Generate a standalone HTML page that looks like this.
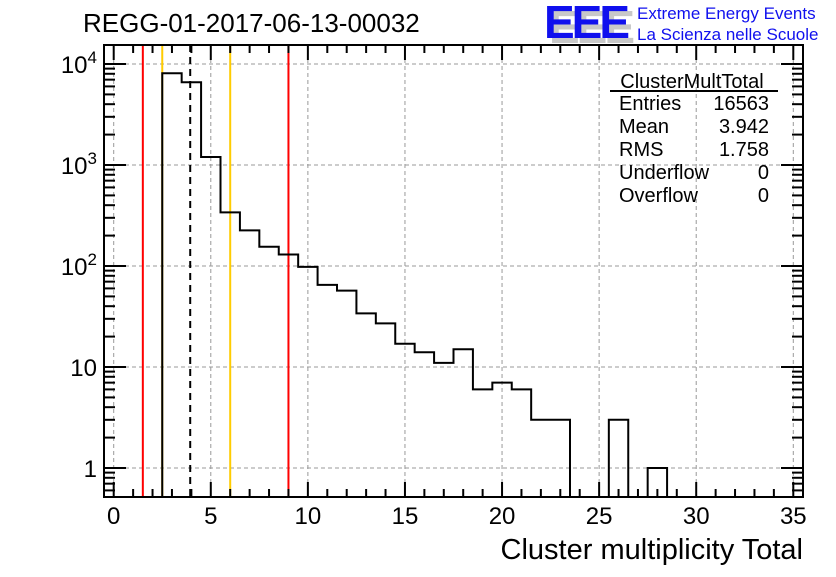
<!DOCTYPE html>
<html><head><meta charset="utf-8"><style>
html,body{margin:0;padding:0;background:#fff;}
svg text{font-family:"Liberation Sans",Arial,sans-serif;}
</style></head><body>
<svg id="chart" xmlns="http://www.w3.org/2000/svg" width="836" height="572" viewBox="0 0 836 572">
<rect x="0" y="0" width="836" height="572" fill="#fff"/>
<text x="83" y="32" font-size="26">REGG-01-2017-06-13-00032</text>
<g>
<text x="549" y="43" font-size="46" font-weight="bold" fill="#c8c8c8" letter-spacing="-3">EEE</text>
<text x="544" y="38" font-size="46" font-weight="bold" fill="#1010ee" letter-spacing="-3">EEE</text>
<text x="637" y="19" font-size="17" fill="#1010ee">Extreme Energy Events</text>
<text x="637" y="40" font-size="17" fill="#1010ee">La Scienza nelle Scuole</text>
</g>
<g id="grid"></g>
<g id="vlines"></g>
<g id="hist"></g>
<g id="axes"></g>
<g font-size="20">
<text x="692" y="88" text-anchor="middle">ClusterMultTotal</text>
<line x1="610" y1="91" x2="778" y2="91" stroke="#000" stroke-width="2"/>
<text x="619" y="110">Entries</text><text x="769" y="110" text-anchor="end">16563</text>
<text x="619" y="133">Mean</text><text x="769" y="133" text-anchor="end">3.942</text>
<text x="619" y="156">RMS</text><text x="769" y="156" text-anchor="end">1.758</text>
<text x="619" y="179">Underflow</text><text x="769" y="179" text-anchor="end">0</text>
<text x="619" y="202">Overflow</text><text x="769" y="202" text-anchor="end">0</text>
</g>
<text x="803" y="559" font-size="29" text-anchor="end">Cluster multiplicity Total</text>
</svg>
<script>
const binCenters=[0,1,2,3,4,5,6,7,8,9,10,11,12,13,14,15,16,17,18,19,20,21,22,23,24,25,26,27,28,29,30,31,32,33,34,35];
const binCounts=[0,0,0,8100,6600,1200,340,225,155,130,98,65,57,34,27,17,14,11,15,6,7,6,3,3,0,0,3,0,1,0,0,0,0,0,0,0];
const xTickLabels=["0","5","10","15","20","25","30","35"];
const yTickValues=[1,10,100,1000,10000];
const yTickBase=["1","10","10","10","10"];
const yTickExp=["","","2","3","4"];
const redLines=[1.5,9];
const yellowLines=[2.5,6];
const meanLine=[3.94];
const NS="http://www.w3.org/2000/svg";
const L=104,R=803,T=45,B=497,XMIN=-0.5,XMAX=35.5;
function xs(v){return L+(v-XMIN)/(XMAX-XMIN)*(R-L);}
function ys(v){return 64+(4-Math.log10(v))*101;}
function mk(tag,attrs,parent){const e=document.createElementNS(NS,tag);for(const k in attrs)e.setAttribute(k,attrs[k]);parent.appendChild(e);return e;}
const grid=document.getElementById('grid'),axes=document.getElementById('axes'),hist=document.getElementById('hist'),vl=document.getElementById('vlines');
xTickLabels.forEach((t)=>{const v=+t;const x=xs(v);
 const g=mk('line',{x1:x,y1:T,x2:x,y2:B,stroke:'#999','stroke-dasharray':'4,3','stroke-width':1},grid);
 
 const tx=mk('text',{x:x,y:524,'font-size':24,'text-anchor':'middle'},axes);tx.textContent=t;
 });
yTickValues.forEach((v,i)=>{const y=ys(v);
 const g=mk('line',{x1:L,y1:y,x2:R,y2:y,stroke:'#999','stroke-dasharray':'4,3','stroke-width':1},grid);
 
 const tx=mk('text',{x:97,y:y+9,'font-size':24,'text-anchor':'end'},axes);
 
 const b=mk('tspan',{},tx);b.textContent=yTickBase[i];
 if(yTickExp[i]){const s=mk('tspan',{dy:-10,'font-size':17},tx);s.textContent=yTickExp[i];}});
function vline(v,color,dash,name){const x=xs(v);const e=mk('line',{x1:x,y1:T,x2:x,y2:B,stroke:color,'stroke-width':2},vl);if(dash)e.setAttribute('stroke-dasharray',dash);
 }
redLines.forEach(v=>vline(v,'#ff0000',null,'red-limit-line'));
yellowLines.forEach(v=>vline(v,'#ffcc00',null,'yellow-limit-line'));
meanLine.forEach(v=>vline(v,'#000',"7,5",'mean-line'));
let d='';
binCenters.forEach((c,i)=>{const n=binCounts[i];const y=n>0?Math.min(B,ys(n)):B;const x0=xs(c-0.5),x1=xs(c+0.5);
 d+=(i===0?'M':'L')+x0+','+y+'L'+x1+','+y;});
const p=mk('path',{d:d,fill:'none',stroke:'#000','stroke-width':2},hist);

const fr=mk('rect',{x:L,y:T,width:R-L,height:B-T,fill:'none',stroke:'#000','stroke-width':2},axes);

for(let v=0;v<=35;v++){const x=xs(v);const len=v%5===0?15:8;
 const a=mk('line',{x1:x,y1:B,x2:x,y2:B-len,stroke:'#000','stroke-width':2},axes);
 const b=mk('line',{x1:x,y1:T,x2:x,y2:T+len,stroke:'#000','stroke-width':2},axes);}
for(let e=-1;e<=4;e++){for(let m=1;m<=9;m++){const v=m*Math.pow(10,e);const y=ys(v);if(y<T||y>B)continue;const len=m===1?22:11;
 const a=mk('line',{x1:L,y1:y,x2:L+len,y2:y,stroke:'#000','stroke-width':2},axes);
 const b=mk('line',{x1:R,y1:y,x2:R-len,y2:y,stroke:'#000','stroke-width':2},axes);}}
</script>
</body></html>
